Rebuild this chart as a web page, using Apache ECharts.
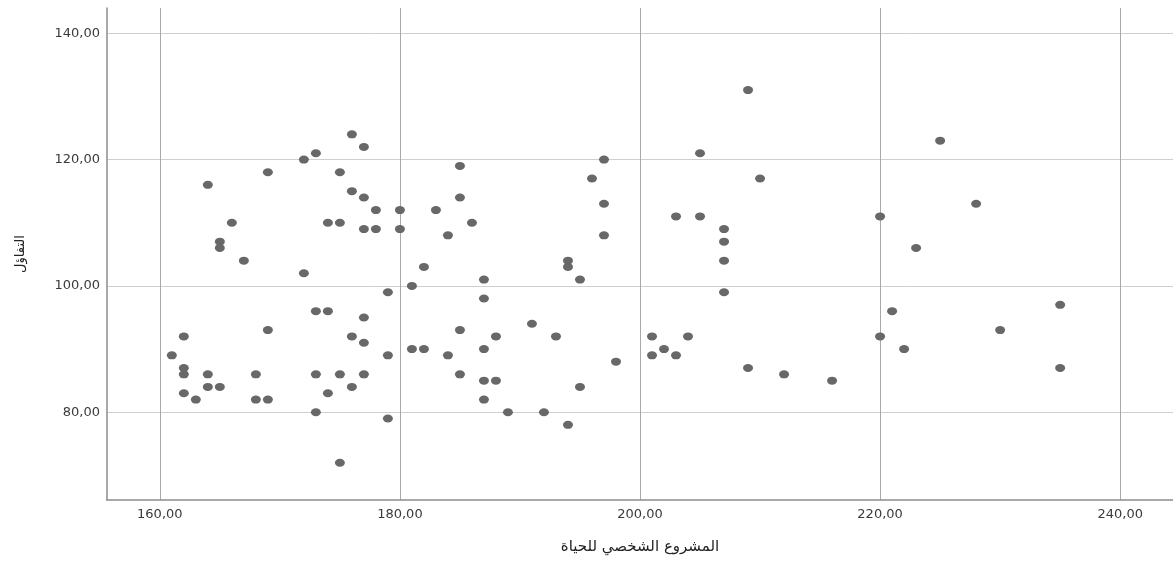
<!DOCTYPE html>
<html>
<head>
<meta charset="utf-8">
<script src="https://cdn.jsdelivr.net/npm/echarts@6/dist/echarts.min.js"></script>
<style>
html,body{margin:0;padding:0;background:#fff;}
#chart{width:1173px;height:563px;}
</style>
</head>
<body>
<div id="chart"></div>
<script>
// المشروع الشخصي للحياة (x) vs التفاؤل (y)
const xValues = [164,166,165,165,167,169,172,173,176,177,175,176,177,178,174,175,177,178,172,180,
  180,185,185,183,186,184,182,187,194,194,195,197,196,197,197,209,205,210,203,205,
  207,207,207,225,220,228,223,179,173,174,177,169,162,176,177,161,179,162,162,164,
  168,173,175,177,164,165,176,162,174,163,168,169,173,179,175,181,187,207,185,188,
  191,193,181,182,184,187,185,187,188,187,189,192,194,195,198,201,201,202,203,204,
  209,212,216,220,221,222,230,235,235];
const yValues = [116,110,107,106,104,118,120,121,124,122,118,115,114,112,110,110,109,109,102,112,
  109,119,114,112,110,108,103,101,104,103,101,120,117,113,108,131,121,117,111,111,
  109,107,104,123,111,113,106,99,96,96,95,93,92,92,91,89,89,87,86,86,
  86,86,86,86,84,84,84,83,83,82,82,82,80,79,72,100,98,99,93,92,
  94,92,90,90,89,90,86,85,85,82,80,80,78,84,88,92,89,90,89,92,
  87,86,85,92,96,90,93,97,87];
const xTicks = [160,180,200,220,240];
const yTicks = [80,100,120,140];
const xTitle = 'المشروع الشخصي للحياة';
const yTitle = 'التفاؤل';

const points = xValues.map((x, i) => [x, yValues[i]]);
const fmt = v => Number(v).toFixed(2).replace('.', ',');

const chart = echarts.init(document.getElementById('chart'), null, {renderer: 'canvas'});
chart.setOption({
  animation: false,
  backgroundColor: '#ffffff',
  grid: {left: 107, right: 0, top: 8, bottom: 63, containLabel: false},
  xAxis: {
    type: 'value',
    min: 155.6,
    max: 244.4,
    name: xTitle,
    nameLocation: 'middle',
    nameGap: 40,
    nameTextStyle: {fontFamily: 'DejaVu Sans, Noto Sans', fontSize: 15, color: '#222'},
    axisLine: {show: true, lineStyle: {color: '#8c8c8c', width: 1.5}},
    axisTick: {show: false, customValues: xTicks},
    axisLabel: {customValues: xTicks, formatter: fmt, color: '#3a3a3a', fontSize: 13,
      fontFamily: 'DejaVu Sans', margin: 8},
    splitLine: {show: true, lineStyle: {color: '#a9a9a9', width: 1}}
  },
  yAxis: {
    type: 'value',
    min: 66.1,
    max: 144,
    name: yTitle,
    nameLocation: 'middle',
    nameGap: 80,
    nameRotate: 90,
    nameTextStyle: {fontFamily: 'DejaVu Sans, Noto Sans', fontSize: 13, color: '#222'},
    axisLine: {show: true, lineStyle: {color: '#8c8c8c', width: 1.5}},
    axisTick: {show: false, customValues: yTicks},
    axisLabel: {customValues: yTicks, formatter: fmt, color: '#3a3a3a', fontSize: 13,
      fontFamily: 'DejaVu Sans', margin: 7},
    splitLine: {show: true, lineStyle: {color: '#cfcfcf', width: 1}}
  },
  series: [{
    type: 'scatter',
    data: points,
    symbol: 'circle',
    symbolSize: [10, 8],
    itemStyle: {color: '#686868', opacity: 1}
  }]
});
</script>
</body>
</html>
